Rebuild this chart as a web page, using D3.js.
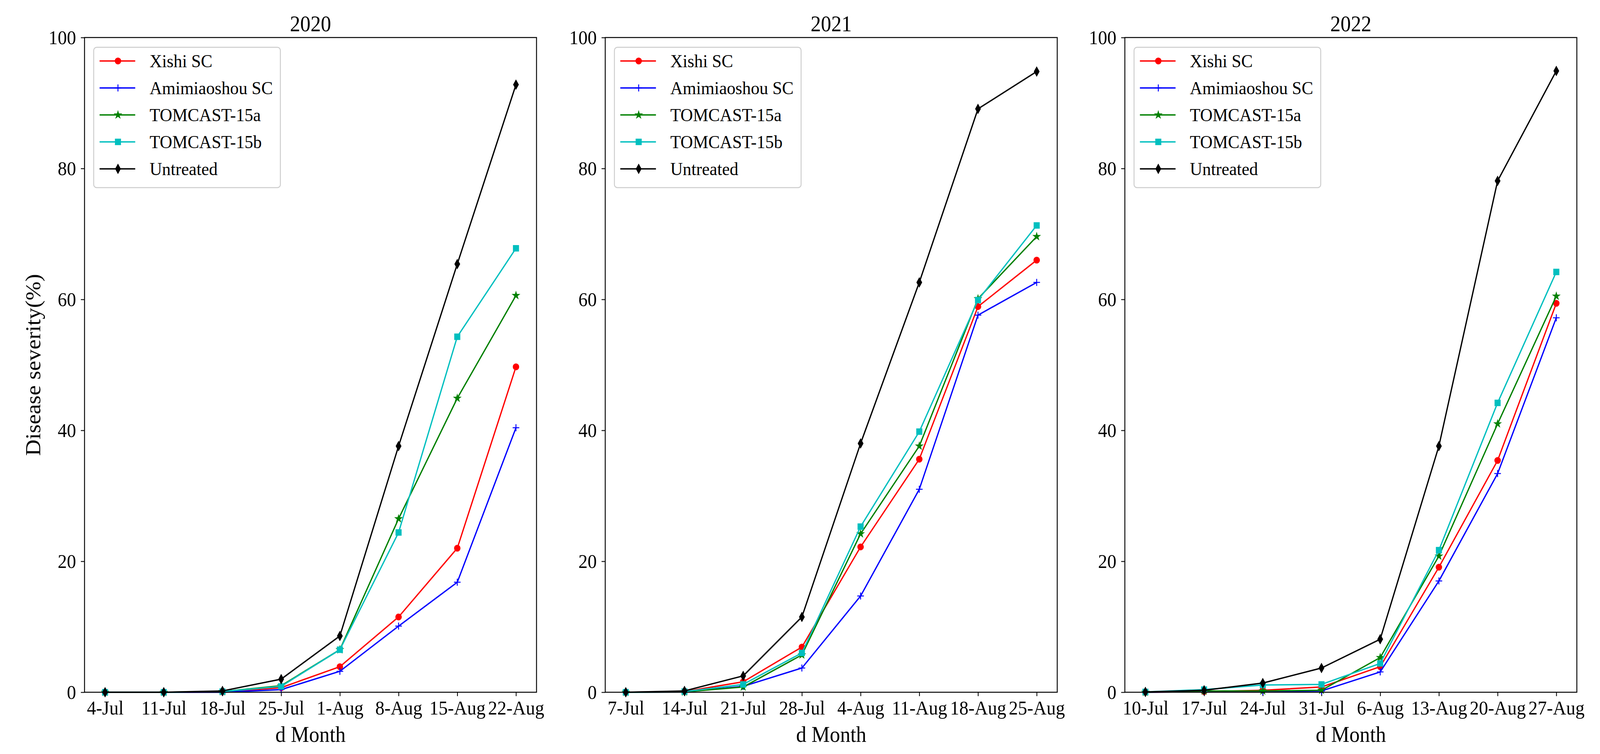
<!DOCTYPE html>
<html>
<head>
<meta charset="utf-8">
<script src="https://cdn.jsdelivr.net/npm/d3@7"></script>
<style>
  html, body { margin: 0; padding: 0; background: #fff; overflow: hidden; }
  #chart { display: block; width: 100vw; height: 100vh; }
  text { font-family: "Liberation Serif", "Times New Roman", serif; fill: #000; }
</style>
</head>
<body>
<svg id="chart" viewBox="0 0 4354 1929" preserveAspectRatio="none"></svg>
<script>
const svg = d3.select('#chart')

// data
const years = ['2020', '2021', '2022']
const dates2020 = ['4-Jul', '11-Jul', '18-Jul', '25-Jul', '1-Aug', '8-Aug', '15-Aug', '22-Aug']
const dates2021 = ['7-Jul', '14-Jul', '21-Jul', '28-Jul', '4-Aug', '11-Aug', '18-Aug', '25-Aug']
const dates2022 = ['10-Jul', '17-Jul', '24-Jul', '31-Jul', '6-Aug', '13-Aug', '20-Aug', '27-Aug']
const seriesNames = ['Xishi SC', 'Amimiaoshou SC', 'TOMCAST-15a', 'TOMCAST-15b', 'Untreated']
const yTicks = [0, 20, 40, 60, 80, 100]

const xishi2020       = [0, 0, 0.05, 0.7, 3.9, 11.5, 22.0, 49.7]
const amimiaoshou2020 = [0, 0, 0, 0.4, 3.2, 10.1, 16.8, 40.4]
const tomcast15a2020  = [0, 0, 0.1, 1.0, 6.5, 26.5, 44.9, 60.6]
const tomcast15b2020  = [0, 0, 0.1, 0.9, 6.5, 24.4, 54.3, 67.8]
const untreated2020   = [0, 0, 0.2, 2.0, 8.6, 37.6, 65.4, 92.8]

const xishi2021       = [0, 0.1, 1.6, 6.9, 22.2, 35.6, 58.9, 66.0]
const amimiaoshou2021 = [0, 0.05, 0.9, 3.7, 14.7, 31.0, 57.6, 62.6]
const tomcast15a2021  = [0, 0.05, 0.8, 5.7, 24.2, 37.6, 60.1, 69.6]
const tomcast15b2021  = [0, 0.1, 1.2, 6.0, 25.3, 39.8, 59.9, 71.3]
const untreated2021   = [0, 0.2, 2.5, 11.5, 38.0, 62.6, 89.1, 94.8]

const xishi2022       = [0, 0.1, 0.3, 0.8, 3.9, 19.1, 35.4, 59.4]
const amimiaoshou2022 = [0, 0.1, 0.1, 0.2, 3.1, 17.0, 33.4, 57.2]
const tomcast15a2022  = [0, 0.2, 0.2, 0.3, 5.3, 20.8, 41.0, 60.5]
const tomcast15b2022  = [0.05, 0.4, 1.1, 1.2, 4.4, 21.7, 44.2, 64.2]
const untreated2022   = [0.05, 0.3, 1.4, 3.7, 8.1, 37.6, 78.1, 94.9]

const panels = [
  { year: years[0], dates: dates2020, series: [xishi2020, amimiaoshou2020, tomcast15a2020, tomcast15b2020, untreated2020] },
  { year: years[1], dates: dates2021, series: [xishi2021, amimiaoshou2021, tomcast15a2021, tomcast15b2021, untreated2021] },
  { year: years[2], dates: dates2022, series: [xishi2022, amimiaoshou2022, tomcast15a2022, tomcast15b2022, untreated2022] }
]

// styles
const colors = ['#ff0000', '#0000ff', '#008000', '#00bfbf', '#000000']
const markers = ['circle', 'plus', 'star', 'square', 'thindiamond']
const panelLefts = [230, 1647, 3061]
const panelWidth = 1230
const plotTop = 96
const plotBottom = 1771
const tickFont = 50
const labelFont = 56
const legendFont = 47

function markerPath(type) {
  if (type === 'circle') {
    const r = 8
    return `M${-r},0A${r},${r} 0 1,0 ${r},0A${r},${r} 0 1,0 ${-r},0Z`
  }
  if (type === 'plus') return 'M-9,0H9M0,-9V9'
  if (type === 'square') return 'M-7.5,-7.5H7.5V7.5H-7.5Z'
  if (type === 'thindiamond') return 'M0,-12L7,0L0,12L-7,0Z'
  // star
  const R = 10, rIn = R * 0.381966
  let pts = []
  for (let i = 0; i < 10; i++) {
    const a = -Math.PI / 2 + i * Math.PI / 5
    const rr = i % 2 === 0 ? R : rIn
    pts.push([rr * Math.cos(a), rr * Math.sin(a)])
  }
  return 'M' + pts.map(p => p.join(',')).join('L') + 'Z'
}

function drawMarker(g, type, color, x, y) {
  const p = g.append('path')
    .attr('d', markerPath(type))
    .attr('transform', `translate(${x},${y})`)
  if (type === 'plus') {
    p.attr('fill', 'none').attr('stroke', color).attr('stroke-width', 2.5)
  } else {
    p.attr('fill', color).attr('stroke', color).attr('stroke-width', 1.5)
  }
}

const yScale = d3.scaleLinear().domain([0, 100]).range([plotBottom, plotTop])

panels.forEach((panel, pi) => {
  const left = panelLefts[pi]
  const right = left + panelWidth
  const xScale = d3.scaleLinear().domain([-0.35, 7.35]).range([left, right])
  const g = svg.append('g')

  // y axis
  const yAxis = d3.axisLeft(yScale).tickValues(yTicks).tickSize(10).tickPadding(13).tickSizeOuter(0)
  const ya = g.append('g').attr('transform', `translate(${left},0)`).call(yAxis)
  ya.selectAll('text').style('font-size', tickFont + 'px').attr('font-family', null)
  ya.select('.domain').remove()
  ya.selectAll('.tick line').attr('stroke', '#000').attr('stroke-width', 2.2)

  // x axis
  const xAxis = d3.axisBottom(xScale).tickValues(d3.range(8)).tickFormat(i => panel.dates[i])
    .tickSize(10).tickPadding(12).tickSizeOuter(0)
  const xa = g.append('g').attr('transform', `translate(0,${plotBottom})`).call(xAxis)
  xa.selectAll('text').style('font-size', tickFont + 'px').attr('font-family', null)
  xa.select('.domain').remove()
  xa.selectAll('.tick line').attr('stroke', '#000').attr('stroke-width', 2.2)

  // lines and markers
  const line = d3.line().x((d, i) => xScale(i)).y(d => yScale(d))
  panel.series.forEach((vals, si) => {
    g.append('path')
      .attr('d', line(vals))
      .attr('fill', 'none')
      .attr('stroke', colors[si])
      .attr('stroke-width', 3.5)
      .attr('stroke-linejoin', 'round')
    vals.forEach((v, i) => drawMarker(g, markers[si], colors[si], xScale(i), yScale(v)))
  })

  // frame
  g.append('rect')
    .attr('x', left).attr('y', plotTop)
    .attr('width', panelWidth).attr('height', plotBottom - plotTop)
    .attr('fill', 'none').attr('stroke', '#000').attr('stroke-width', 2.5)

  // title
  g.append('text')
    .attr('x', (left + right) / 2).attr('y', 80)
    .attr('text-anchor', 'middle')
    .style('font-size', labelFont + 'px')
    .text(panel.year)

  // x label
  g.append('text')
    .attr('x', (left + right) / 2).attr('y', 1898)
    .attr('text-anchor', 'middle')
    .style('font-size', labelFont + 'px')
    .text('d Month')

  // legend
  const lg = g.append('g')
  lg.append('rect')
    .attr('x', left + 25).attr('y', plotTop + 25)
    .attr('width', 508).attr('height', 359)
    .attr('rx', 8)
    .attr('fill', '#fff').attr('fill-opacity', 0.8)
    .attr('stroke', '#cccccc').attr('stroke-width', 2.5)
  seriesNames.forEach((name, si) => {
    const ry = plotTop + 60 + si * 69
    lg.append('line')
      .attr('x1', left + 41).attr('x2', left + 138)
      .attr('y1', ry).attr('y2', ry)
      .attr('stroke', colors[si]).attr('stroke-width', 3.5)
    drawMarker(lg, markers[si], colors[si], left + 91, ry)
    lg.append('text')
      .attr('x', left + 177).attr('y', ry + 16)
      .style('font-size', legendFont + 'px')
      .text(name)
  })
})

// y label (first panel only)
svg.append('text')
  .attr('transform', `translate(110, ${(plotTop + plotBottom) / 2}) rotate(-90)`)
  .attr('text-anchor', 'middle')
  .style('font-size', '58px')
  .text('Disease severity(%)')
</script>
</body>
</html>
